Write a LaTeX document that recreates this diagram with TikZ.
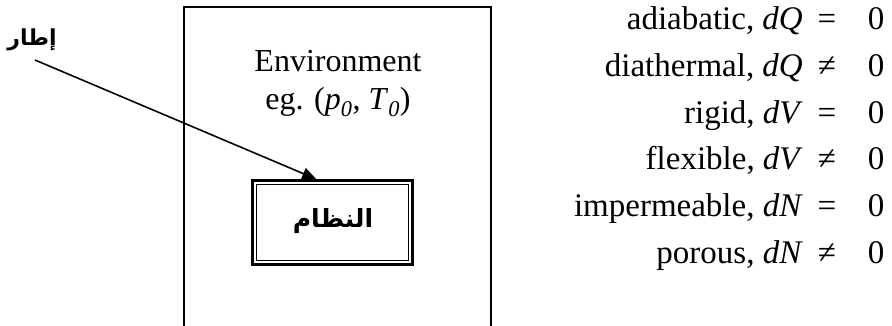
\documentclass[tikz,border=0pt]{standalone}
\usepackage{fontspec}
\setmainfont{Liberation Serif}
\newfontfamily\arabicfont[Script=Arabic]{DejaVu Sans}
\TeXXeTstate=1
\usetikzlibrary{arrows.meta,calc}
\begin{document}
\begin{tikzpicture}[x=1pt,y=-1pt,
  txt/.style={font=\fontsize{32}{37}\selectfont, inner sep=0pt},
  lbl/.style={font=\fontsize{33}{38}\selectfont, inner sep=0pt, anchor=base east},
  rel/.style={font=\fontsize{33}{38}\selectfont, inner sep=0pt, anchor=base},
  arab/.style={font=\arabicfont\bfseries\fontsize{25}{30}\selectfont, inner sep=0pt},
  envline/.style={line width=1.3pt},
  arrowline/.style={line width=1.6pt, -{Triangle[length=14pt,width=12pt]}}
]
\useasboundingbox (0,0) rectangle (892,326);
% environment box (open at the bottom)
\draw[envline] (184,326) -- (184,7) -- (491,7) -- (491,326);
\node[txt, anchor=base] (env1) at (338,72) {Environment};
\node[txt, anchor=base] (env2) at (338,110) {eg. (\textit{p}\textsubscript{\textit{0}}, \textit{T}\textsubscript{\textit{0}})};
% system box with double border
\node[draw, line width=2.8pt, minimum width=160pt, minimum height=84pt, inner sep=0pt] (sys) at (332.5,222.5) {};
\draw[line width=1.4pt] ($(sys.north west)+(5.5,5.5)$) rectangle ($(sys.south east)+(-5.5,-5.5)$);
\node[arab] (systxt) at (333,221) {\beginR النظام\endR};
% frame label and arrow
\node[arab, font=\arabicfont\bfseries\fontsize{22}{26}\selectfont] (frame) at (32,40) {\beginR إطار\endR};
\coordinate (tail) at (35,60);
\draw[arrowline] (tail) -- ($(sys.north west)!0.4!(sys.north east)$);
% right column
\foreach \i/\l/\r in {0/{adiabatic, \textit{dQ}}/{=},
                      1/{diathermal, \textit{dQ}}/{≠},
                      2/{rigid, \textit{dV}}/{=},
                      3/{flexible, \textit{dV}}/{≠},
                      4/{impermeable, \textit{dN}}/{=},
                      5/{porous, \textit{dN}}/{≠}}{
  \node[lbl] (l\i) at (803,30+46.6*\i) {\l};
  \node[rel] (r\i) at (827,30+46.6*\i) {\r};
  \node[rel] (z\i) at (876,30+46.6*\i) {0};
}
\end{tikzpicture}
\end{document}
